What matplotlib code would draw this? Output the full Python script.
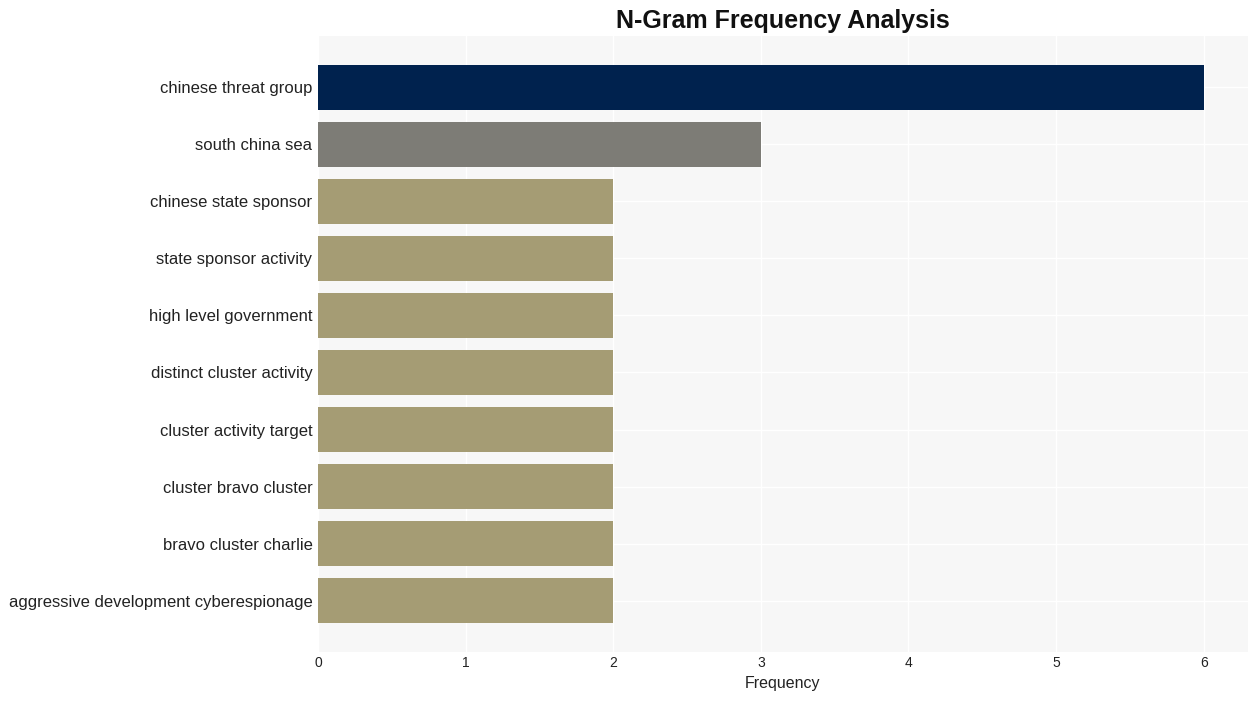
import matplotlib
matplotlib.use('Agg')
import matplotlib.pyplot as plt

# n-gram labels, top to bottom
ngrams = ['chinese threat group', 'south china sea', 'chinese state sponsor',
          'state sponsor activity', 'high level government', 'distinct cluster activity',
          'cluster activity target', 'cluster bravo cluster', 'bravo cluster charlie',
          'aggressive development cyberespionage']
counts = [6, 3, 2, 2, 2, 2, 2, 2, 2, 2]
colors = ['#00224e', '#7d7c76'] + ['#a59c74'] * 8
xticks = [0, 1, 2, 3, 4, 5, 6]

plt.rcParams['font.family'] = ['Liberation Sans', 'DejaVu Sans']

fig = plt.figure(figsize=(12.57, 7.01), dpi=100)
ax = fig.add_axes([0.253, 0.07, 0.7398, 0.8786])
ax.set_facecolor('#f7f7f7')

pos = list(range(len(ngrams)))[::-1]
ax.barh(pos, counts, height=0.8, color=colors, zorder=2)

ax.set_yticks(pos)
ax.set_yticklabels(ngrams, fontsize=12, color='#222222')
ax.set_xticks(xticks)
ax.set_xticklabels([str(t) for t in xticks], fontsize=10, color='#222222')
ax.set_xlim(0, 6.3)
ax.set_ylim(-0.9, 9.9)
ax.set_xlabel('Frequency', fontsize=11.5, color='#222222', labelpad=4)
ax.set_title('N-Gram Frequency Analysis', fontsize=18, fontweight='bold', color='#111111', pad=6)

ax.grid(True, color='white', linewidth=1, zorder=0)
ax.set_axisbelow(True)
for s in ax.spines.values():
    s.set_visible(False)
ax.tick_params(axis='y', length=0, pad=4)
ax.tick_params(axis='x', length=0, pad=3)

fig.savefig('out.png', dpi=100)
